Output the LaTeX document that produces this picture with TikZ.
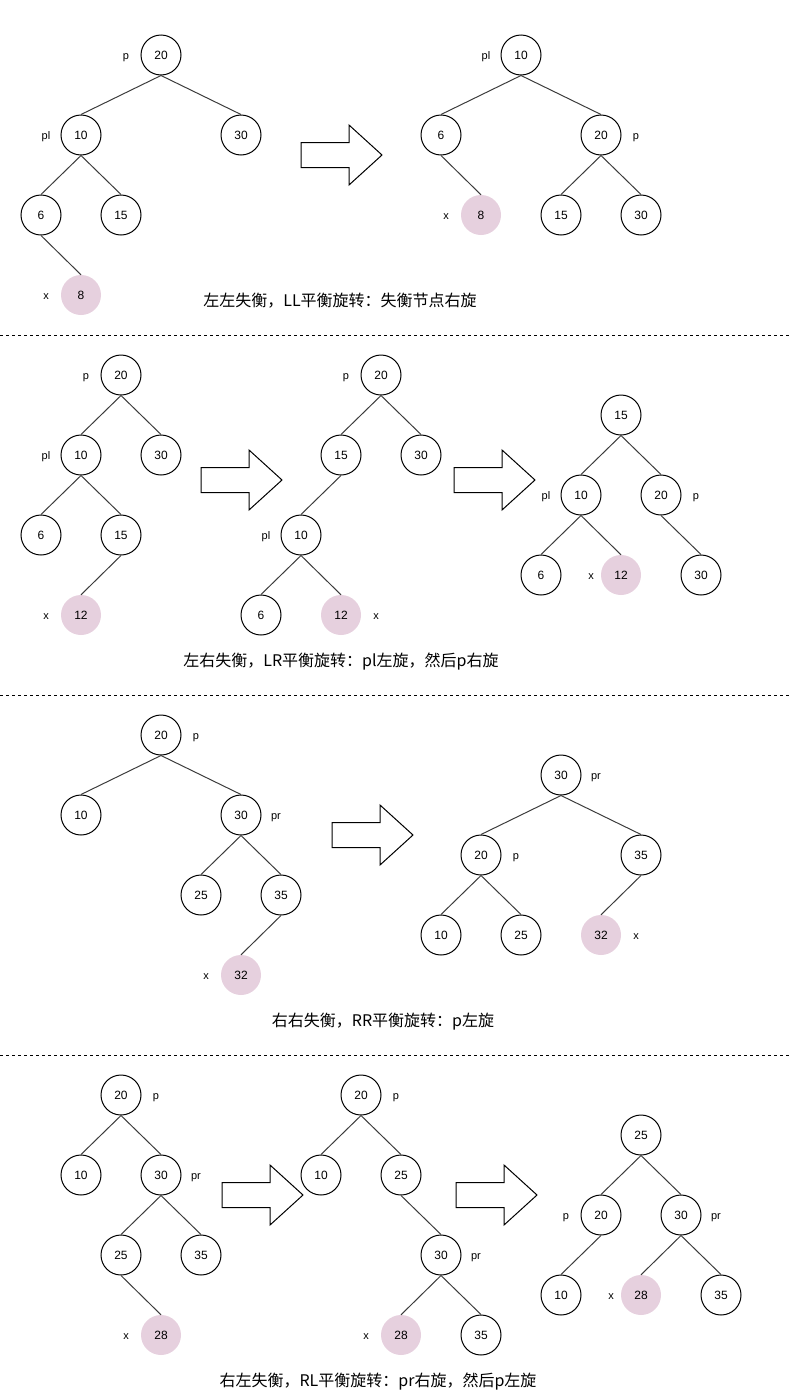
\documentclass[tikz,border=0pt]{standalone}
\usepackage{fontspec}
\setmainfont{Liberation Sans}
\newfontfamily\cjk{Noto Sans CJK SC}
\usetikzlibrary{positioning}
\definecolor{newpink}{RGB}{230,208,222}
\definecolor{edgegray}{RGB}{60,60,60}

\tikzset{
    tnode/.style={circle, draw=black, line width=1pt, minimum size=40pt, inner sep=0pt,
                  font=\fontsize{12}{14}\selectfont},
    newnode/.style={circle, fill=newpink, minimum size=40pt, inner sep=0pt,
                  font=\fontsize{12}{14}\selectfont},
    tlabel/.style={inner sep=0pt, text height=8.6pt, text depth=0pt,
                  font=\fontsize{11}{13}\selectfont},
    edge/.style={draw=edgegray, line width=1pt},
    caption/.style={font=\cjk\fontsize{16}{18}\selectfont},
    sepline/.style={draw=black, line width=1pt, dash pattern=on 3pt off 3pt},
    pics/fatarrow/.style={code={
        \draw[line width=1pt, fill=white] (0,-12.5) -- (48,-12.5) -- (48,-30) -- (81,0)
            -- (48,30) -- (48,12.5) -- (0,12.5) -- cycle;
    }}
}

\begin{document}
\begin{tikzpicture}[x=1pt, y=-1pt]
    \useasboundingbox (0,0) rectangle (793,1395);

    % LL
    \node[tnode] (s1a20) at (161,55) {20};
    \node[tnode] (s1a10) at (81,135) {10};
    \node[tnode] (s1a30) at (241,135) {30};
    \node[tnode] (s1a6) at (41,215) {6};
    \node[tnode] (s1a15) at (121,215) {15};
    \node[newnode] (s1a8) at (81,295) {8};
    \node[tlabel] (s1ap) at (126,55) {p};
    \node[tlabel] (s1apl) at (46,135) {pl};
    \node[tlabel] (s1ax) at (46,295) {x};

    \pic at (301,155) {fatarrow};

    \node[tnode] (s1b10) at (521,55) {10};
    \node[tnode] (s1b6) at (441,135) {6};
    \node[tnode] (s1b20) at (601,135) {20};
    \node[newnode] (s1b8) at (481,215) {8};
    \node[tnode] (s1b15) at (561,215) {15};
    \node[tnode] (s1b30) at (641,215) {30};
    \node[tlabel] (s1bpl) at (486,55) {pl};
    \node[tlabel] (s1bp) at (636,135) {p};
    \node[tlabel] (s1bx) at (446,215) {x};

    \node[caption] (s1cap) at (340,301) {左左失衡，LL平衡旋转：失衡节点右旋};

    \foreach \a/\b in {s1a20/s1a10, s1a20/s1a30, s1a10/s1a6, s1a10/s1a15, s1a6/s1a8,
                       s1b10/s1b6, s1b10/s1b20, s1b6/s1b8, s1b20/s1b15, s1b20/s1b30}
        \draw[edge] (\a.south) -- (\b.north);

    \draw[sepline] (0,335) -- (790,335);

    % LR
    \node[tnode] (s2a20) at (121,375) {20};
    \node[tnode] (s2a10) at (81,455) {10};
    \node[tnode] (s2a30) at (161,455) {30};
    \node[tnode] (s2a6) at (41,535) {6};
    \node[tnode] (s2a15) at (121,535) {15};
    \node[newnode] (s2a12) at (81,615) {12};
    \node[tlabel] (s2ap) at (86,375) {p};
    \node[tlabel] (s2apl) at (46,455) {pl};
    \node[tlabel] (s2ax) at (46,615) {x};

    \pic at (201,480) {fatarrow};

    \node[tnode] (s2b20) at (381,375) {20};
    \node[tnode] (s2b15) at (341,455) {15};
    \node[tnode] (s2b30) at (421,455) {30};
    \node[tnode] (s2b10) at (301,535) {10};
    \node[tnode] (s2b6) at (261,615) {6};
    \node[newnode] (s2b12) at (341,615) {12};
    \node[tlabel] (s2bp) at (346,375) {p};
    \node[tlabel] (s2bpl) at (266,535) {pl};
    \node[tlabel] (s2bx) at (376,615) {x};

    \pic at (454,480) {fatarrow};

    \node[tnode] (s2c15) at (621,415) {15};
    \node[tnode] (s2c10) at (581,495) {10};
    \node[tnode] (s2c20) at (661,495) {20};
    \node[tnode] (s2c6) at (541,575) {6};
    \node[newnode] (s2c12) at (621,575) {12};
    \node[tnode] (s2c30) at (701,575) {30};
    \node[tlabel] (s2cpl) at (546,495) {pl};
    \node[tlabel] (s2cp) at (696,495) {p};
    \node[tlabel] (s2cx) at (591,575) {x};

    \node[caption] (s2cap) at (341,662) {左右失衡，LR平衡旋转：pl左旋，然后p右旋};

    \foreach \a/\b in {s2a20/s2a10, s2a20/s2a30, s2a10/s2a6, s2a10/s2a15, s2a15/s2a12,
                       s2b20/s2b15, s2b20/s2b30, s2b15/s2b10, s2b10/s2b6, s2b10/s2b12,
                       s2c15/s2c10, s2c15/s2c20, s2c10/s2c6, s2c10/s2c12, s2c20/s2c30}
        \draw[edge] (\a.south) -- (\b.north);

    \draw[sepline] (0,695) -- (790,695);

    % RR
    \node[tnode] (s3a20) at (161,735) {20};
    \node[tnode] (s3a10) at (81,815) {10};
    \node[tnode] (s3a30) at (241,815) {30};
    \node[tnode] (s3a25) at (201,895) {25};
    \node[tnode] (s3a35) at (281,895) {35};
    \node[newnode] (s3a32) at (241,975) {32};
    \node[tlabel] (s3ap) at (196,735) {p};
    \node[tlabel] (s3apr) at (276,815) {pr};
    \node[tlabel] (s3ax) at (206,975) {x};

    \pic at (332,835) {fatarrow};

    \node[tnode] (s3b30) at (561,775) {30};
    \node[tnode] (s3b20) at (481,855) {20};
    \node[tnode] (s3b35) at (641,855) {35};
    \node[tnode] (s3b10) at (441,935) {10};
    \node[tnode] (s3b25) at (521,935) {25};
    \node[newnode] (s3b32) at (601,935) {32};
    \node[tlabel] (s3bpr) at (596,775) {pr};
    \node[tlabel] (s3bp) at (516,855) {p};
    \node[tlabel] (s3bx) at (636,935) {x};

    \node[caption] (s3cap) at (383,1022) {右右失衡，RR平衡旋转：p左旋};

    \foreach \a/\b in {s3a20/s3a10, s3a20/s3a30, s3a30/s3a25, s3a30/s3a35, s3a35/s3a32,
                       s3b30/s3b20, s3b30/s3b35, s3b20/s3b10, s3b20/s3b25, s3b35/s3b32}
        \draw[edge] (\a.south) -- (\b.north);

    \draw[sepline] (0,1055) -- (790,1055);

    % RL
    \node[tnode] (s4a20) at (121,1095) {20};
    \node[tnode] (s4a10) at (81,1175) {10};
    \node[tnode] (s4a30) at (161,1175) {30};
    \node[tnode] (s4a25) at (121,1255) {25};
    \node[tnode] (s4a35) at (201,1255) {35};
    \node[newnode] (s4a28) at (161,1335) {28};
    \node[tlabel] (s4ap) at (156,1095) {p};
    \node[tlabel] (s4apr) at (196,1175) {pr};
    \node[tlabel] (s4ax) at (126,1335) {x};

    \pic at (222,1195) {fatarrow};

    \node[tnode] (s4b20) at (361,1095) {20};
    \node[tnode] (s4b10) at (321,1175) {10};
    \node[tnode] (s4b25) at (401,1175) {25};
    \node[tnode] (s4b30) at (441,1255) {30};
    \node[newnode] (s4b28) at (401,1335) {28};
    \node[tnode] (s4b35) at (481,1335) {35};
    \node[tlabel] (s4bp) at (396,1095) {p};
    \node[tlabel] (s4bpr) at (476,1255) {pr};
    \node[tlabel] (s4bx) at (366,1335) {x};

    \pic at (456,1195) {fatarrow};

    \node[tnode] (s4c25) at (641,1135) {25};
    \node[tnode] (s4c20) at (601,1215) {20};
    \node[tnode] (s4c30) at (681,1215) {30};
    \node[tnode] (s4c10) at (561,1295) {10};
    \node[newnode] (s4c28) at (641,1295) {28};
    \node[tnode] (s4c35) at (721,1295) {35};
    \node[tlabel] (s4cp) at (566,1215) {p};
    \node[tlabel] (s4cpr) at (716,1215) {pr};
    \node[tlabel] (s4cx) at (611,1295) {x};

    \node[caption] (s4cap) at (378,1382) {右左失衡，RL平衡旋转：pr右旋，然后p左旋};

    \foreach \a/\b in {s4a20/s4a10, s4a20/s4a30, s4a30/s4a25, s4a30/s4a35, s4a25/s4a28,
                       s4b20/s4b10, s4b20/s4b25, s4b25/s4b30, s4b30/s4b28, s4b30/s4b35,
                       s4c25/s4c20, s4c25/s4c30, s4c20/s4c10, s4c30/s4c28, s4c30/s4c35}
        \draw[edge] (\a.south) -- (\b.north);
\end{tikzpicture}
\end{document}
